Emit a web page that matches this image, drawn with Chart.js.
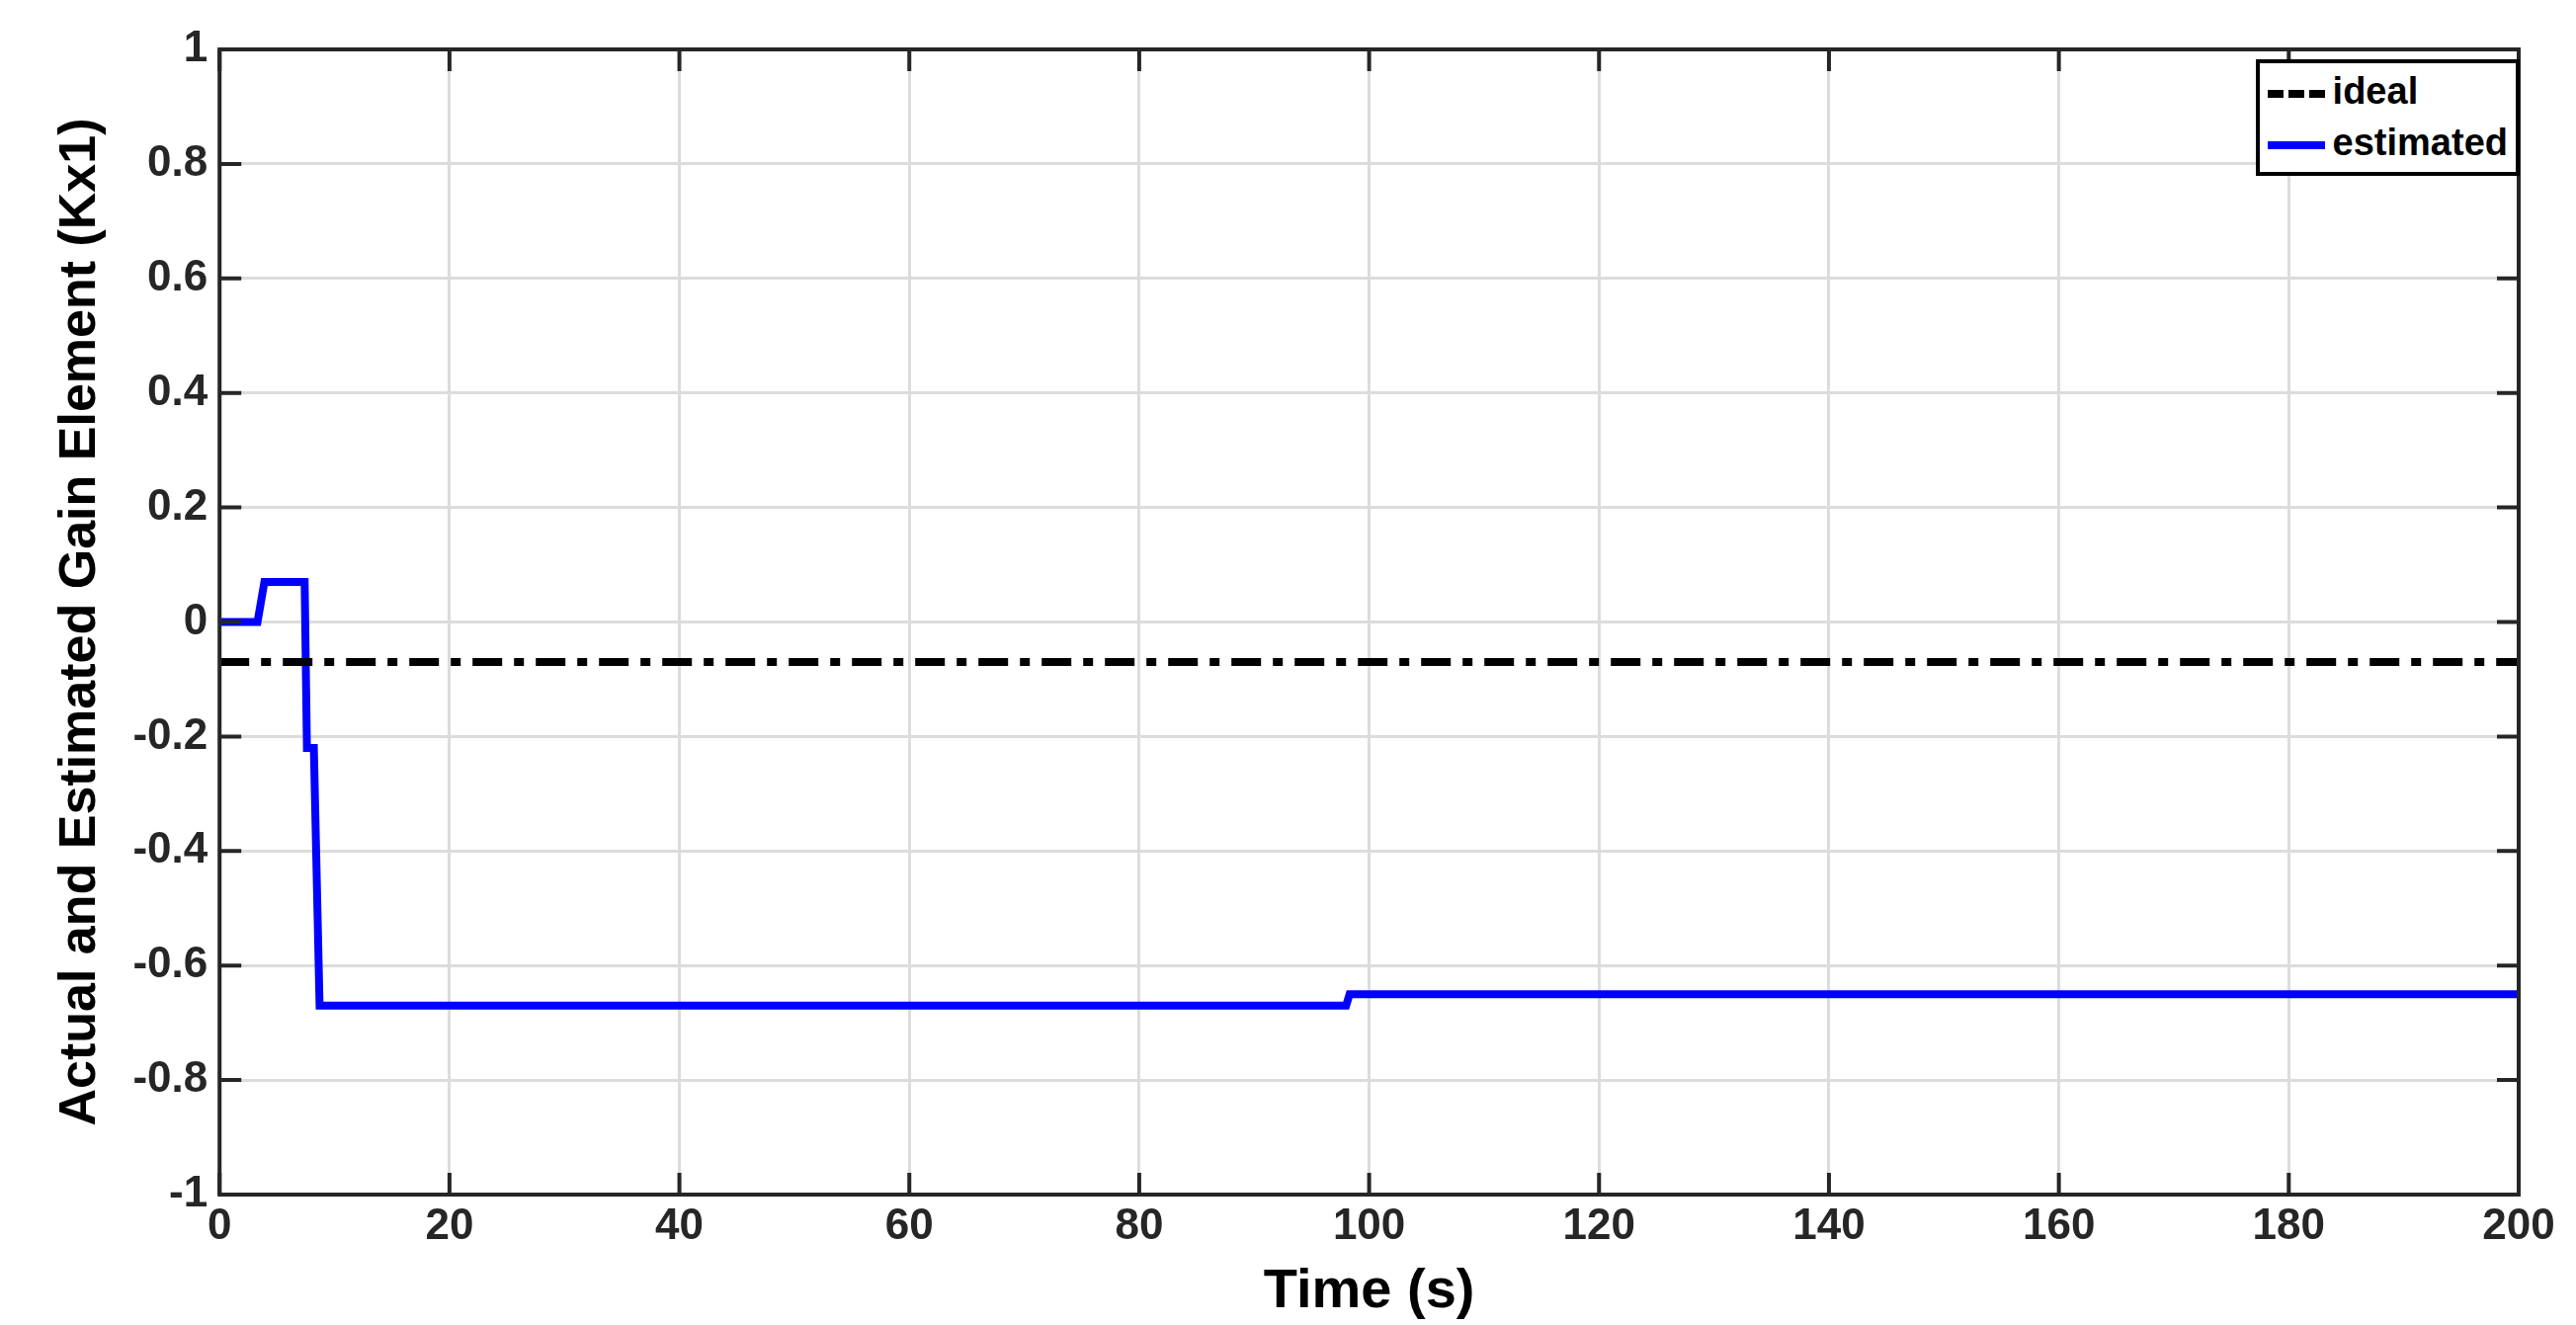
<!DOCTYPE html>
<html>
<head>
<meta charset="utf-8">
<script src="https://cdn.jsdelivr.net/npm/chart.js@4/dist/chart.umd.min.js"></script>
<style>
  body { margin: 0; background: #fff; }
  #wrap { position: relative; width: 2607px; height: 1341px; }
  #legend { position: absolute; right: 57px; top: 60px; border: 4px solid #000; background: #fff;
    font: bold 38px "Liberation Sans", Arial, sans-serif; padding: 2px 8px 4px 8px; line-height: 52px; }
  #legend .sw { display: inline-block; width: 58px; height: 0; vertical-align: middle; margin-right: 8px; }
</style>
</head>
<body>
<div id="wrap">
  <canvas id="c" width="2607" height="1341"></canvas>
  <div id="legend">
    <div><span class="sw" style="border-top:8px dashed #000"></span>ideal</div>
    <div><span class="sw" style="border-top:8px solid #0000ff"></span>estimated</div>
  </div>
</div>
<script>
    // valeurs
    const estTime  = [0, 3.3, 3.9, 7.4, 7.6, 8.2, 8.7, 98.0, 98.3, 200];
    const estValue = [0, 0, 0.07, 0.07, -0.22, -0.22, -0.67, -0.67, -0.65, -0.65];
    const idealTime  = [0, 200];
    const idealValue = [-0.07, -0.07];
    const xTicks = [0, 20, 40, 60, 80, 100, 120, 140, 160, 180, 200];
    const yTicks = [-1, -0.8, -0.6, -0.4, -0.2, 0, 0.2, 0.4, 0.6, 0.8, 1];

    const tickFont = { family: 'Liberation Sans', weight: 'bold', size: 44 };

    // cadre et graduations vers l'intérieur, façon MATLAB
    const frame = {
        id: 'frame',
        afterDatasetsDraw(chart) {
            const { ctx, chartArea: a, scales: { x, y } } = chart;
            ctx.save();
            ctx.strokeStyle = '#262626';
            ctx.lineWidth = 4;
            ctx.strokeRect(a.left, a.top, a.right - a.left, a.bottom - a.top);
            ctx.beginPath();
            xTicks.forEach(t => {
                const px = x.getPixelForValue(t);
                ctx.moveTo(px, a.bottom); ctx.lineTo(px, a.bottom - 22);
                ctx.moveTo(px, a.top); ctx.lineTo(px, a.top + 22);
            });
            yTicks.forEach(t => {
                const py = y.getPixelForValue(t);
                ctx.moveTo(a.left, py); ctx.lineTo(a.left + 22, py);
                ctx.moveTo(a.right, py); ctx.lineTo(a.right - 22, py);
            });
            ctx.stroke();
            ctx.restore();
        }
    };

    new Chart(document.getElementById('c'), {
        type: 'line',
        data: {
            datasets: [{
                label: 'ideal',
                data: idealTime.map((t, i) => ({ x: t, y: idealValue[i] })),
                borderColor: '#000',
                borderWidth: 8,
                borderDash: [30, 12, 10, 12],
                pointRadius: 0
            }, {
                label: 'estimated',
                data: estTime.map((t, i) => ({ x: t, y: estValue[i] })),
                borderColor: '#0000ff',
                borderWidth: 8,
                pointRadius: 0,
                tension: 0
            }]
        },
        options: {
            responsive: false,
            animation: false,
            layout: { padding: { top: 50, right: 58, left: 50, bottom: 0 } },
            plugins: { legend: { display: false }, tooltip: { enabled: false } },
            scales: {
                x: {
                    type: 'linear', min: 0, max: 200,
                    afterBuildTicks: s => { s.ticks = xTicks.map(v => ({ value: v })); },
                    ticks: { font: tickFont, color: '#262626', padding: 6, maxRotation: 0 },
                    grid: { color: '#dcdcdc', lineWidth: 3, drawTicks: false },
                    border: { display: false },
                    title: { display: true, text: 'Time (s)', font: { family: 'Liberation Sans', weight: 'bold', size: 56 }, color: '#000', padding: { top: 0, bottom: 0 } }
                },
                y: {
                    min: -1, max: 1,
                    afterBuildTicks: s => { s.ticks = yTicks.map(v => ({ value: v })); },
                    ticks: { font: tickFont, color: '#262626', padding: 12, callback: v => String(Math.round(v * 10) / 10) },
                    grid: { color: '#dcdcdc', lineWidth: 3, drawTicks: false },
                    border: { display: false },
                    title: { display: true, text: 'Actual and Estimated Gain Element (Kx1)', font: { family: 'Liberation Sans', weight: 'bold', size: 52 }, color: '#000', padding: { top: 0, bottom: 10 } }
                }
            }
        },
        plugins: [frame]
    });
</script>
</body>
</html>
